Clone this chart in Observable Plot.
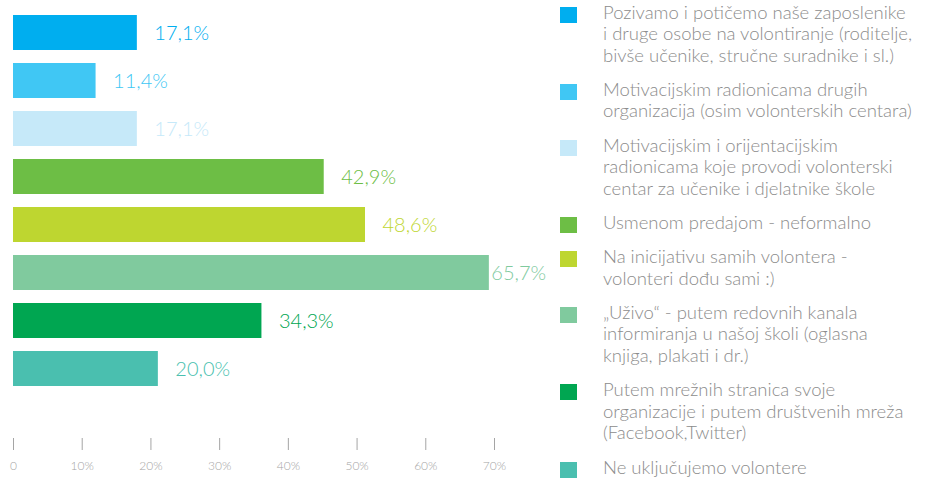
<!DOCTYPE html>
<html><head><meta charset="utf-8">
<script src="https://cdn.jsdelivr.net/npm/d3@7"></script>
<script src="https://cdn.jsdelivr.net/npm/@observablehq/plot@0.6"></script>
<style>
body{margin:0;background:#fff;width:927px;height:479px;overflow:hidden;position:relative;font-family:Lato,"Open Sans",sans-serif;}
#bars{position:absolute;left:0;top:0;}
#axis{position:absolute;left:0;top:430px;}
#legend{position:absolute;left:560px;top:1.5px;width:367px;}
.item{display:flex;margin-bottom:12.8px;}
.sw{width:17px;height:16px;flex:none;margin-top:5px;margin-right:26px;}
.tx{white-space:pre-line;font-size:18.5px;line-height:21.5px;color:#8c8c8c;font-weight:300;}
</style></head>
<body>
<div id="bars"></div>
<div id="axis"></div>
<div id="legend"></div>
<script>
const categories = [
  "Pozivamo i potičemo naše zaposlenike\ni druge osobe na volontiranje (roditelje,\nbivše učenike, stručne suradnike i sl.)",
  "Motivacijskim radionicama drugih\norganizacija (osim volonterskih centara)",
  "Motivacijskim i orijentacijskim\nradionicama koje provodi volonterski\ncentar za učenike i djelatnike škole",
  "Usmenom predajom - neformalno",
  "Na inicijativu samih volontera -\nvolonteri dođu sami :)",
  "„Uživo“ - putem redovnih kanala\ninformiranja u našoj školi (oglasna\nknjiga, plakati i dr.)",
  "Putem mrežnih stranica svoje\norganizacije i putem društvenih mreža\n(Facebook,Twitter)",
  "Ne uključujemo volontere"
];
const values = [17.1, 11.4, 17.1, 42.9, 48.6, 65.7, 34.3, 20.0];
const colors = ["#00aeef", "#40c7f4", "#c6e9f9", "#6dbe45", "#bed630", "#80ca9e", "#00a651", "#4abfaf"];
const tickValues = [0, 10, 20, 30, 40, 50, 60, 70];
const tickLabels = ["0", "10%", "20%", "30%", "40%", "50%", "60%", "70%"];

const data = categories.map((c, i) => ({
  cat: c, value: values[i], color: colors[i],
  label: values[i].toFixed(1).replace(".", ",") + "%"
}));
const maxV = d3.max(values);

const bars = Plot.plot({
  width: 550, height: 400,
  marginLeft: 13, marginRight: 30, marginTop: 11, marginBottom: 10,
  style: {fontFamily: "Lato, 'Open Sans', sans-serif", background: "transparent"},
  x: {domain: [0, 70], axis: null},
  y: {domain: categories, axis: null, paddingInner: 0.265, paddingOuter: 0},
  color: {type: "identity"},
  marks: [
    Plot.barX(data, {x: "value", y: "cat", fill: "color"}),
    Plot.text(data.filter(d => d.value < maxV), {x: "value", y: "cat", text: "label", fill: "color",
      textAnchor: "start", dx: 17, dy: 1, fontSize: 20, fontWeight: 300}),
    Plot.text(data.filter(d => d.value === maxV), {x: "value", y: "cat", text: "label", fill: "color",
      textAnchor: "start", dx: 2, dy: 1, fontSize: 20, fontWeight: 300})
  ]
});
document.getElementById("bars").appendChild(bars);

const axis = Plot.plot({
  width: 550, height: 49,
  marginLeft: 13, marginRight: 56, marginTop: 0, marginBottom: 41,
  style: {fontFamily: "Lato, 'Open Sans', sans-serif", background: "transparent"},
  x: {domain: [0, 70], axis: null},
  marks: [
    Plot.axisX({ticks: tickValues, tickSize: 12, tickPadding: 11,
      tickFormat: (d) => tickLabels[tickValues.indexOf(d)],
      color: "#a5a5a5", fontSize: 12, fontWeight: 300, label: null})
  ]
});
document.getElementById("axis").appendChild(axis);

const legend = document.getElementById("legend");
categories.forEach((c, i) => {
  const item = document.createElement("div");
  item.className = "item";
  const sw = document.createElement("div");
  sw.className = "sw"; sw.style.background = colors[i];
  const tx = document.createElement("div");
  tx.className = "tx"; tx.textContent = c;
  item.appendChild(sw); item.appendChild(tx);
  legend.appendChild(item);
});
</script>
</body></html>
